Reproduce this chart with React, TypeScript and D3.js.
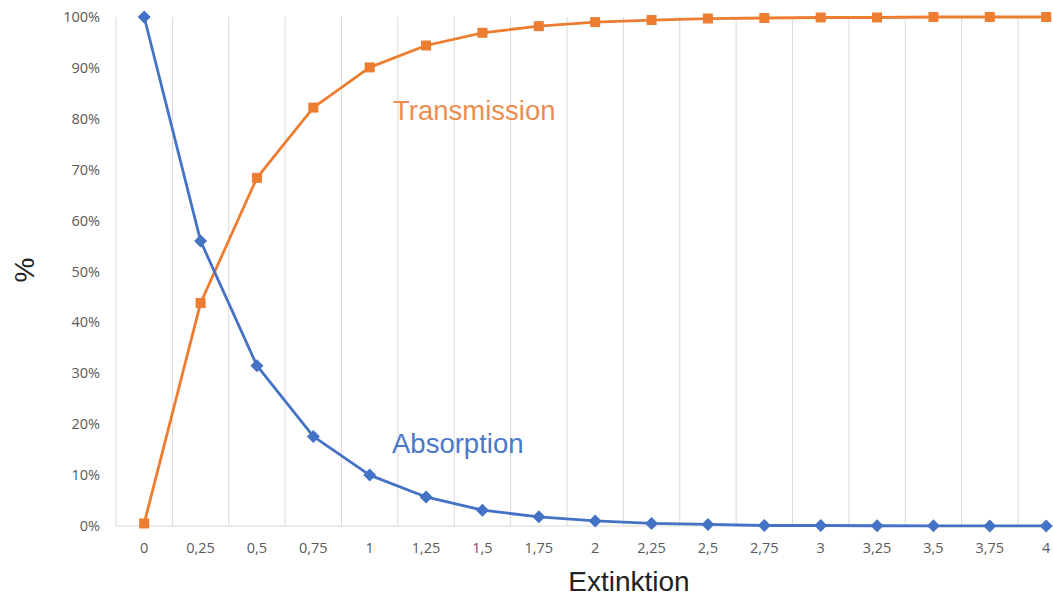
import React from "react";
import * as d3 from "d3";

const categories = ["0","0,25","0,5","0,75","1","1,25","1,5","1,75","2","2,25","2,5","2,75","3","3,25","3,5","3,75","4"];
const absorption = [100, 56, 31.5, 17.6, 10, 5.7, 3.1, 1.8, 1.0, 0.5, 0.3, 0.1, 0.1, 0.05, 0.03, 0.02, 0.01];
const transmission = [0.5, 43.8, 68.4, 82.2, 90.1, 94.4, 96.9, 98.2, 99.0, 99.4, 99.7, 99.8, 99.9, 99.9, 100, 100, 100];
const yTicks = [0, 10, 20, 30, 40, 50, 60, 70, 80, 90, 100];

const W = 1053, H = 600;
const BLUE = "#4472C4";
const ORANGE = "#ED7D31";
const TICK_FONT = "'Open Sans', 'Liberation Sans', sans-serif";
const TITLE_FONT = "'Liberation Sans', Arial, sans-serif";

export default function App() {
  const x = d3.scaleBand<string>().domain(categories).range([116, 116 + 56.375 * 17]);
  const cx = (c: string) => (x(c) as number) + x.bandwidth() / 2;
  const y = d3.scaleLinear().domain([0, 100]).range([526, 17]);

  const line = d3.line<number>()
    .x((_, i) => cx(categories[i]))
    .y((d) => y(d))
    .curve(d3.curveLinear);

  const boundaries = categories.map((c) => x(c) as number);

  return (
    <svg width={W} height={H} style={{ position: "absolute", left: 0, top: 0, background: "#fff" }}>
      {boundaries.map((b, i) => (
        <line key={i} x1={b} x2={b} y1={y(100)} y2={y(0)} stroke="#d9d9d9" strokeWidth={1} />
      ))}
      <line x1={116} x2={W} y1={y(0)} y2={y(0)} stroke="#d9d9d9" strokeWidth={1} />

      {yTicks.map((t) => (
        <text key={t} x={100} y={y(t)} dy="0.35em" textAnchor="end" fontSize={14.5}
          fontFamily={TICK_FONT} fill="#595959">{t}%</text>
      ))}
      {categories.map((c) => (
        <text key={c} x={cx(c)} y={548} dy="0.35em" textAnchor="middle" fontSize={14.5}
          fontFamily={TICK_FONT} fill="#595959">{c}</text>
      ))}

      <path d={line(transmission) || ""} fill="none" stroke={ORANGE} strokeWidth={2.8} strokeLinejoin="round" />
      <path d={line(absorption) || ""} fill="none" stroke={BLUE} strokeWidth={2.8} strokeLinejoin="round" />

      {transmission.map((v, i) => (
        <rect key={"t" + i} x={cx(categories[i]) - 5} y={y(v) - 5} width={10} height={10} fill={ORANGE} />
      ))}
      {absorption.map((v, i) => (
        <path key={"a" + i} d="M0,-6.5L6.5,0L0,6.5L-6.5,0Z" transform={`translate(${cx(categories[i])},${y(v)})`} fill={BLUE} />
      ))}

      <text x={393} y={120} fontSize={27.5} fontFamily={TITLE_FONT} fill="#EC8D50">Transmission</text>
      <text x={392} y={453} fontSize={27.5} fontFamily={TITLE_FONT} fill="#4A78C8">Absorption</text>

      <text transform={`translate(34,270) rotate(-90)`} textAnchor="middle" fontSize={28}
        fontFamily={TITLE_FONT} fill="#222">%</text>
      <text x={629} y={591} textAnchor="middle" fontSize={28}
        fontFamily={TITLE_FONT} fill="#222">Extinktion</text>
    </svg>
  );
}
